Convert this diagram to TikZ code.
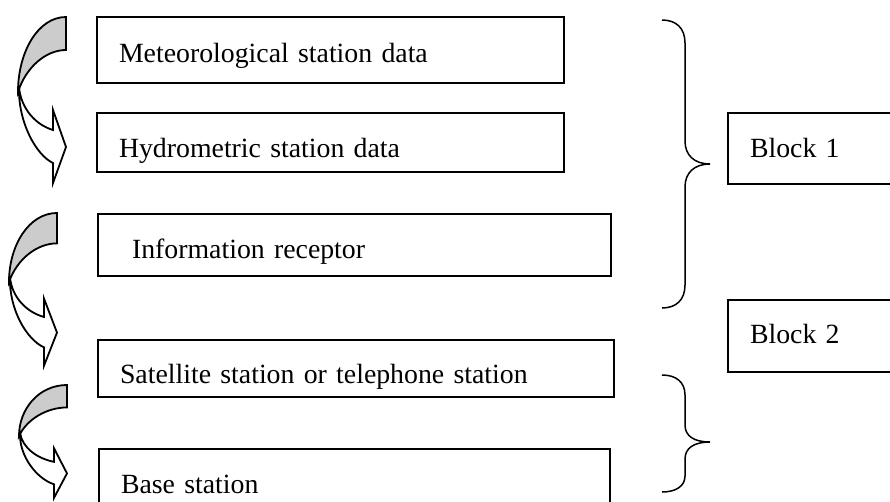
\documentclass[tikz,border=0pt]{standalone}
\usepackage{fontspec}
\setmainfont{Liberation Serif}

\tikzset{
  databox/.style={draw, line width=1.8pt, anchor=north west, outer sep=0pt,
    inner xsep=22pt, inner ysep=0pt, align=left},
  curly/.style={line width=1.5pt},
  bendarrow/.pic={
    % back of the band
    \draw[line width=1.8pt, fill=gray!40] (0,0) .. controls (-28,0) and (-48,35) .. (-48,75)
      .. controls (-40,50) and (-20,33) .. (0,33) -- cycle;
    % front of the band with the head
    \draw[line width=1.8pt, fill=white] (-47,70) .. controls (-48,105) and (-30,138) .. (-13,146)
      -- (-13,166) -- (0,130) -- (-13,93) -- (-13,113)
      .. controls (-30,108) and (-45,92) .. (-47,70) -- cycle;
  }
}

\begin{document}
\begin{tikzpicture}[x=1pt, y=-1pt, font=\fontsize{27.8}{33}\selectfont]
\useasboundingbox (0,0) rectangle (890,501);

% stations
\node[databox, text width=423pt, text height=45pt, text depth=21pt] (meteo) at (97,17) {Meteorological station data};
\node[databox, text width=423pt, text height=44pt, text depth=15pt] (hydro) at (97,113) {Hydrometric station data};
\node[databox, text width=469pt, text height=44pt, text depth=18pt] (receptor) at (98,214) {\hspace*{12pt}Information receptor};
\node[databox, text width=472pt, text height=43pt, text depth=14pt] (satellite) at (98,340) {Satellite station or telephone station};
\node[databox, text width=467pt, text height=44pt, text depth=17pt] (base) at (99,449) {Base station};

% blocks
\node[databox, text width=200pt, text height=44pt, text depth=27pt] (block1) at (728,113) {Block 1};
\node[databox, text width=200pt, text height=43pt, text depth=29pt] (block2) at (728,300) {Block 2};

% bent arrows on the left
\pic at (66,17) {bendarrow};
\pic[yscale=0.92] at (57,213) {bendarrow};
\pic[yscale=0.68] at (67,385) {bendarrow};

% braces
\draw[curly] (662,20) .. controls (676,20) and (685,28) .. (685,43) -- (685,141)
  .. controls (685,155) and (694,164) .. (710,164)
  .. controls (694,164) and (685,173) .. (685,187) -- (685,285)
  .. controls (685,300) and (676,308) .. (662,308);
\draw[curly] (662,375) .. controls (676,375) and (685,382) .. (685,395) -- (685,425)
  .. controls (685,436) and (694,442) .. (710,442)
  .. controls (694,442) and (685,448) .. (685,459) -- (685,476)
  .. controls (685,486) and (676,492) .. (662,492);
\end{tikzpicture}
\end{document}
